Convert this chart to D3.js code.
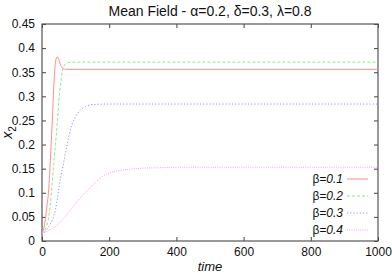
<!DOCTYPE html>
<html>
<head>
<meta charset="utf-8">
<script src="https://cdn.jsdelivr.net/npm/d3@7"></script>
<style>
  body { margin: 0; background: #fff; }
  svg { font-family: "Liberation Sans", Arial, sans-serif; }
</style>
</head>
<body>
<div id="chart"></div>
<script>
const margin = { top: 24, right: 14, bottom: 33, left: 42 };
const width = 392 - margin.left - margin.right;
const height = 274 - margin.top - margin.bottom;

// values: [time, x2]
const beta01 = [[0,0.015],[5,0.025],[10,0.045],[15,0.075],[20,0.106],[25,0.17],[30,0.24],[35,0.32],[40,0.37],[45,0.382],[50,0.376],[55,0.366],[60,0.359],[70,0.356],[1000,0.356]];
const beta02 = [[0,0.015],[10,0.025],[20,0.05],[28,0.1],[35,0.16],[40,0.2],[45,0.24],[50,0.29],[55,0.325],[60,0.35],[65,0.362],[70,0.367],[80,0.37],[100,0.371],[1000,0.371]];
const beta03 = [[0,0.015],[20,0.03],[40,0.065],[55,0.13],[65,0.165],[75,0.2],[85,0.232],[100,0.258],[115,0.272],[130,0.279],[150,0.283],[200,0.284],[1000,0.284]];
const beta04 = [[0,0.015],[20,0.022],[40,0.03],[60,0.043],[80,0.06],[100,0.078],[120,0.094],[140,0.108],[160,0.122],[180,0.134],[200,0.141],[220,0.145],[250,0.148],[300,0.151],[350,0.152],[400,0.153],[1000,0.153]];

const labels = ["0.1", "0.2", "0.3", "0.4"];
const colors = ["#ff8c8c", "#8ce88c", "#9090ff", "#ff99ff"];
const dashes = [null, "3,2", "1.2,2", "1,1.2"];
const seriesList = [beta01, beta02, beta03, beta04];

const xTicks = [0, 200, 400, 600, 800, 1000];
const yTicks = [0, 0.05, 0.1, 0.15, 0.2, 0.25, 0.3, 0.35, 0.4, 0.45];

const svg = d3.select("#chart")
  .append("svg")
    .attr("width", width + margin.left + margin.right)
    .attr("height", height + margin.top + margin.bottom)
  .append("g")
    .attr("transform", `translate(${margin.left},${margin.top})`);

const x = d3.scaleLinear().domain([0, 1000]).range([0, width]);
const y = d3.scaleLinear().domain([0, 0.45]).range([height, 0]);

// axes, gnuplot style: ticks point inward, mirrored
const fmtY = d => String(+d.toFixed(2));
const axBottom = svg.append("g")
  .attr("transform", `translate(0,${height})`)
  .call(d3.axisBottom(x).tickValues(xTicks).tickSize(-4).tickPadding(6).tickFormat(d3.format("d")));
const axTop = svg.append("g")
  .call(d3.axisTop(x).tickValues(xTicks).tickSize(-4).tickFormat(""));
const axLeft = svg.append("g")
  .call(d3.axisLeft(y).tickValues(yTicks).tickSize(-4).tickPadding(7).tickFormat(fmtY));
const axRight = svg.append("g")
  .attr("transform", `translate(${width},0)`)
  .call(d3.axisRight(y).tickValues(yTicks).tickSize(-4).tickFormat(""));

[axBottom, axTop, axLeft, axRight].forEach(g => {
  g.select(".domain").remove();
  g.selectAll(".tick line").attr("stroke", "#444");
  g.selectAll("text").style("font-size", "12px").attr("fill", "#111");
});

svg.append("rect")
  .attr("width", width)
  .attr("height", height)
  .attr("fill", "none")
  .attr("stroke", "#555")
  .attr("stroke-width", 1.2);

const line = d3.line()
  .x(d => x(d[0]))
  .y(d => y(d[1]))
  .curve(d3.curveMonotoneX);

seriesList.forEach((s, i) => {
  svg.append("path")
    .datum(s)
    .attr("fill", "none")
    .attr("stroke", colors[i])
    .attr("stroke-width", 1)
    .attr("stroke-dasharray", dashes[i])
    .attr("d", line);
});

// legend
const legend = svg.append("g");
labels.forEach((l, i) => {
  const ly = 155 + i * 17;
  const t = legend.append("text")
    .attr("x", 301)
    .attr("y", ly + 4)
    .attr("text-anchor", "end")
    .style("font-size", "12px")
    .attr("fill", "#111");
  t.append("tspan").text("β");
  t.append("tspan").style("font-style", "italic").text("=" + l);
  legend.append("line")
    .attr("x1", 305).attr("x2", 326)
    .attr("y1", ly).attr("y2", ly)
    .attr("stroke", colors[i])
    .attr("stroke-dasharray", dashes[i]);
});

// title
svg.append("text")
  .attr("x", width / 2)
  .attr("y", -8)
  .attr("text-anchor", "middle")
  .style("font-size", "14px")
  .attr("fill", "#111")
  .text("Mean Field - α=0.2, δ=0.3, λ=0.8");

// axis labels
svg.append("text")
  .attr("x", width / 2)
  .attr("y", height + 30)
  .attr("text-anchor", "middle")
  .style("font-size", "13px")
  .style("font-style", "italic")
  .attr("fill", "#111")
  .text("time");

const yl = svg.append("text")
  .attr("transform", `translate(${-30},${height / 2}) rotate(-90)`)
  .attr("text-anchor", "middle")
  .style("font-size", "14px")
  .style("font-style", "italic")
  .attr("fill", "#111");
yl.append("tspan").text("x");
yl.append("tspan").attr("dy", 4).style("font-size", "10px").style("font-style", "normal").text("2");
</script>
</body>
</html>
